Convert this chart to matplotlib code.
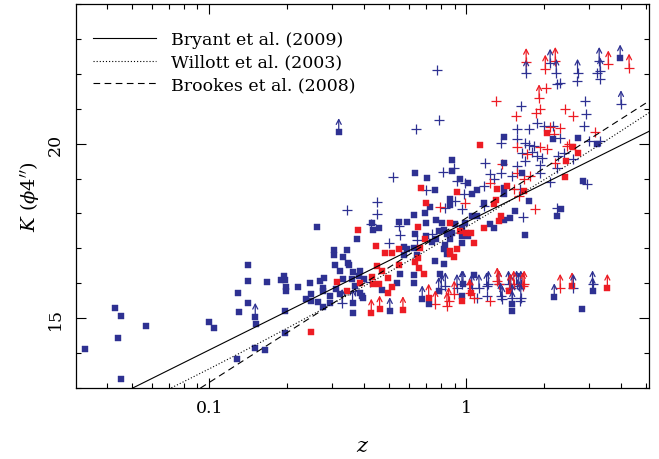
import numpy as np
import matplotlib
matplotlib.use('Agg')
import matplotlib.pyplot as plt
from matplotlib.ticker import FixedLocator, NullFormatter, FixedFormatter

plt.rcParams['font.family'] = ['DejaVu Serif']
plt.rcParams['mathtext.fontset'] = 'dejavuserif'

BLUE = '#2e3192'
RED = '#ed1c24'

# ---------------- data (z, K) ----------------
blue_sq_z = [0.0329, 0.0430, 0.0452, 0.0440, 0.0454, 0.0569, 0.0997, 0.104, 0.129, 0.141, 0.141, 0.141,
             0.131, 0.152, 0.151, 0.128, 0.1655, 0.1675, 0.195, 0.191, 0.197, 0.199, 0.199, 0.198, 0.197,
             0.222, 0.247, 0.249, 0.237, 0.249, 0.264, 0.277, 0.270, 0.279, 0.277, 0.277, 0.294, 0.294, 0.263,
             0.308, 0.322, 0.351, 0.363, 0.385, 0.310, 0.331, 0.324, 0.359, 0.370, 0.385, 0.396, 0.381, 0.399,
             0.470, 0.538, 0.554, 0.624, 0.628, 0.758, 0.817, 0.361, 0.393, 0.348, 0.792, 0.714, 0.962, 1.07,
             1.51, 2.82, 1.70,
             0.632, 0.705, 0.753, 0.720, 0.691, 0.628, 0.760, 0.699, 0.430, 0.432, 0.456, 0.546, 0.586, 0.634,
             0.697, 0.376, 0.760, 0.305, 0.343, 0.305, 0.331, 0.571, 0.588, 0.624, 0.738, 0.574, 0.643,
             0.882, 0.882, 1.40, 1.40, 2.17, 0.942, 1.02, 0.866, 0.866, 1.05, 1.10, 1.40, 1.40, 1.65, 1.75,
             2.25, 1.17, 1.10, 1.05, 0.99, 0.96, 0.906, 1.40, 1.48, 1.24, 1.28, 1.55, 0.805, 0.817, 0.841,
             0.877, 0.866, 1.02, 0.829, 0.962, 0.817, 0.841, 0.781, 0.962,
             2.72, 3.24, 2.84, 2.34]
blue_sq_K = [14.11, 15.28, 15.05, 14.44, 13.27, 14.77, 14.89, 14.72, 15.73, 16.52, 16.06, 15.44,
             15.17, 14.82, 14.16, 13.82, 14.10, 16.03, 16.21, 16.10, 16.09, 15.88, 15.79, 15.21, 14.57,
             15.89, 16.00, 15.70, 15.54, 15.49, 15.47, 15.33, 16.07, 16.16, 15.87, 15.78, 15.65, 15.44, 17.62,
             16.53, 16.34, 16.51, 16.32, 16.35, 15.85, 16.11, 15.68, 16.11, 15.92, 15.73, 15.59, 16.21, 16.11,
             15.81, 16.00, 16.26, 16.00, 16.23, 16.64, 16.54, 15.16, 15.63, 16.59, 16.26, 15.40, 15.63, 16.23,
             15.20, 15.25, 17.37,
             19.17, 19.01, 18.67, 18.18, 18.02, 17.95, 17.80, 17.72, 17.74, 17.54, 17.58, 17.75, 17.75, 17.40,
             17.35, 17.28, 17.26, 16.95, 16.94, 16.82, 16.76, 17.05, 16.97, 17.02, 17.17, 16.80, 16.80,
             19.53, 19.21, 19.46, 20.19, 20.14, 19.00, 18.86, 18.42, 18.23, 18.55, 18.67, 18.74, 18.55, 19.17, 18.36,
             17.93, 18.31, 17.93, 17.93, 17.74, 17.59, 17.69, 17.81, 17.88, 17.71, 17.59, 18.07, 17.74, 17.54, 17.40,
             17.45, 17.26, 17.35, 17.11, 17.16, 16.97, 16.83, 17.50, 17.35,
             20.17, 19.98, 18.93, 18.12]

red_sq_z = [0.249, 0.667, 0.695, 0.379, 0.649, 0.447, 0.481, 0.515, 0.546, 0.663, 0.693, 0.313, 0.343,
            0.385, 0.430, 0.450, 0.470, 0.495, 0.434, 0.456, 0.495, 0.514, 0.546, 0.634, 0.653, 0.687, 0.647,
            0.866, 0.962, 1.47, 2.07, 1.13, 2.60, 2.72, 2.45, 2.43, 0.920, 1.32, 1.30, 1.44, 1.68, 1.28, 1.34,
            1.36, 1.17, 0.866, 0.948, 1.00, 1.04, 1.07, 0.866, 0.920, 0.893]
red_sq_K = [14.60, 18.74, 18.29, 17.54, 17.62, 17.07, 16.86, 16.86, 16.97, 17.02, 17.26, 16.03, 15.78,
            16.00, 16.19, 16.49, 16.35, 16.16, 15.97, 15.97, 15.73, 15.90, 16.51, 16.61, 16.45, 16.28, 16.73,
            16.83, 15.49, 15.78, 20.30, 19.95, 19.89, 19.74, 19.50, 19.05, 18.61, 18.69, 18.40, 18.79, 18.64, 18.26, 17.78,
            17.93, 17.59, 17.74, 17.50, 17.45, 17.45, 17.16, 16.92, 16.99, 16.76]

blue_pl_z = [0.519, 0.695, 0.451, 0.345, 0.448, 0.427, 0.546, 0.554, 0.735, 0.643, 0.502, 0.639, 0.769,
             0.783, 0.811, 0.898, 2.25, 1.64, 1.88, 1.58, 1.75, 2.00, 2.17, 1.37, 1.57, 1.70, 1.75, 1.83, 1.65,
             1.80, 1.88, 1.97, 1.70, 1.94, 1.57, 1.18, 2.28, 2.25, 2.69, 3.32, 3.22, 2.32, 2.90, 2.93, 2.86, 2.99,
             3.32, 2.61, 2.32, 2.39, 2.96, 0.920, 0.99, 0.98, 1.17, 1.24, 1.28, 1.36, 1.51, 1.94, 1.62, 1.66,
             2.25, 1.17, 0.962, 0.906, 0.829, 2.12, 0.424, 0.370, 1.62, 1.10, 1.20]
blue_pl_K = [19.05, 18.67, 18.34, 18.09, 17.99, 17.71, 17.64, 17.38, 17.40, 17.23, 17.14, 20.41, 22.11,
             20.68, 19.18, 19.31, 21.70, 21.08, 20.60, 20.43, 20.41, 20.50, 20.52, 20.03, 20.12, 20.03, 19.95, 19.93, 19.74,
             19.76, 19.64, 19.60, 19.50, 19.38, 19.36, 19.46, 19.64, 19.31, 21.79, 21.84, 22.03, 21.75, 21.22, 20.84, 20.50, 20.07,
             20.07, 19.55, 20.17, 19.74, 18.83, 18.93, 18.88, 18.55, 18.79, 19.12, 18.98, 19.17, 19.07, 19.17, 18.69, 17.90,
             18.17, 18.21, 18.12, 18.36, 18.17, 18.90, 16.03, 15.78, 15.49, 15.59, 15.63]

red_pl_z = [1.30, 2.04, 1.86, 1.94, 1.56, 2.19, 1.57, 1.94, 2.06, 1.73, 1.38, 2.22, 2.43, 2.60, 3.17, 2.47,
            1.24, 1.57, 1.67, 1.77, 1.53, 1.60, 1.85, 0.99, 0.792, 2.12, 2.32, 2.52, 1.07, 1.24]
red_pl_K = [21.22, 21.58, 20.89, 20.98, 20.79, 20.27, 19.89, 19.89, 19.84, 19.69, 19.41, 19.44, 20.98, 20.79, 20.32, 19.93,
            18.88, 19.17, 18.98, 19.07, 18.69, 18.50, 18.14, 18.31, 18.19, 20.49, 20.46, 19.98, 15.59, 15.49]

# lower limits (drawn with an upward arrow)
blue_sq_lim_z = [0.151, 0.319, 0.361, 0.504, 0.674, 0.781, 0.971, 1.51, 2.20, 3.10, 3.97]
blue_sq_lim_K = [15.04, 20.33, 15.44, 15.20, 15.54, 15.78, 15.97, 15.40, 15.60, 15.78, 22.44]

red_sq_lim_z = [0.427, 0.460, 0.567, 0.714, 1.04, 2.58, 3.54]
red_sq_lim_K = [15.16, 15.25, 15.23, 15.59, 15.73, 15.92, 15.87]

blue_pl_lim_z = [0.329, 0.80, 0.829, 0.920, 0.962, 1.05, 1.12, 1.22, 1.36, 1.49, 1.60, 1.20, 1.34, 1.38, 1.46,
                 1.57, 1.63, 1.51, 1.63, 2.61, 3.10, 1.71, 2.12, 2.24, 2.71, 3.29, 3.32, 4.00]
blue_pl_lim_K = [15.44, 15.85, 15.92, 15.87, 15.97, 15.87, 15.87, 15.97, 15.63, 15.87, 15.92, 15.92, 15.97, 15.54, 15.97,
                 15.97, 15.97, 15.59, 15.59, 15.87, 15.97, 22.01, 22.32, 22.03, 22.03, 22.37, 22.07, 21.13]

red_pl_lim_z = [0.758, 0.841, 0.898, 0.854, 1.03, 1.34, 1.32, 1.48, 1.53, 1.66, 1.68, 2.32,
                1.71, 2.22, 2.03, 1.92, 3.57, 4.30]
red_pl_lim_K = [15.40, 15.35, 15.68, 15.49, 15.73, 15.97, 16.06, 15.87, 15.97, 15.92, 15.97, 15.87,
                22.34, 22.37, 22.15, 21.30, 22.27, 22.18]

# K-z relations: K = c0 + c1*log z + c2*(log z)^2
relations = ['Bryant et al. (2009)', 'Willott et al. (2003)', 'Brookes et al. (2008)']
rel_coeffs = [[17.75, 3.66, 0.0], [17.61, 4.38, 0.32], [17.87, 4.71, 0.0]]

# ---------------- figure ----------------
fig = plt.figure(figsize=(6.59, 4.60), dpi=100)
ax = fig.add_axes([0.1153, 0.1543, 0.8695, 0.8348])
ax.set_xscale('log')
ax.set_xlim(0.0303, 5.14)
ax.set_ylim(13, 24)

arrow_len = 0.40
def limits(zs, Ks, color):
    for z, k in zip(zs, Ks):
        ax.annotate('', xy=(z, k + arrow_len), xytext=(z, k), xycoords='data', textcoords='data',
                    arrowprops=dict(arrowstyle='->,head_length=0.35,head_width=0.18', color=color,
                                    lw=0.9, shrinkA=0, shrinkB=0), zorder=2)

sq_kw = dict(ls='none', marker='s', ms=4.0, mew=0.3, zorder=2)
pl_kw = dict(ls='none', marker='+', ms=7.5, mew=0.9, zorder=2)

ax.plot(blue_pl_z, blue_pl_K, color=BLUE, **pl_kw)
ax.plot(red_pl_z, red_pl_K, color=RED, **pl_kw)
ax.plot(blue_pl_lim_z, blue_pl_lim_K, color=BLUE, **pl_kw)
ax.plot(red_pl_lim_z, red_pl_lim_K, color=RED, **pl_kw)
ax.plot(blue_sq_z, blue_sq_K, color=BLUE, mec=BLUE, **sq_kw)
ax.plot(red_sq_z, red_sq_K, color=RED, mec=RED, **sq_kw)
ax.plot(blue_sq_lim_z, blue_sq_lim_K, color=BLUE, mec=BLUE, **sq_kw)
ax.plot(red_sq_lim_z, red_sq_lim_K, color=RED, mec=RED, **sq_kw)
limits(blue_sq_lim_z, blue_sq_lim_K, BLUE)
limits(red_sq_lim_z, red_sq_lim_K, RED)
limits(blue_pl_lim_z, blue_pl_lim_K, BLUE)
limits(red_pl_lim_z, red_pl_lim_K, RED)

zz = np.logspace(np.log10(0.0303), np.log10(5.14), 300)
lz = np.log10(zz)
styles = [dict(ls='-'), dict(dashes=(1.0, 1.8)), dict(dashes=(6, 4))]
for name, c, st in zip(relations, rel_coeffs, styles):
    ax.plot(zz, c[0] + c[1] * lz + c[2] * lz ** 2, color='black', lw=0.8, label=name, zorder=3, **st)

leg = ax.legend(loc='upper left', bbox_to_anchor=(0.0, 0.975), frameon=False, fontsize=12.5,
                handlelength=3.6, handletextpad=0.9, labelspacing=0.33, borderaxespad=0.6)

# ticks
ax.xaxis.set_major_locator(FixedLocator([0.1, 1]))
ax.xaxis.set_major_formatter(FixedFormatter(['0.1', '1']))
minor_x = [m * 10.0 ** e for e in (-2, -1, 0) for m in range(2, 10)]
ax.xaxis.set_minor_locator(FixedLocator(minor_x))
ax.xaxis.set_minor_formatter(NullFormatter())
ax.yaxis.set_major_locator(FixedLocator([15, 20]))
ax.yaxis.set_minor_locator(FixedLocator(list(range(13, 25))))
ax.tick_params(which='both', direction='in', top=True, right=True, width=0.8)
ax.tick_params(which='major', length=7)
ax.tick_params(which='minor', length=3.5)
ax.tick_params(axis='x', which='major', labelsize=12.5, pad=8)
ax.tick_params(axis='y', which='major', labelsize=12.5, pad=9, labelrotation=90)
for lab in ax.get_yticklabels():
    lab.set_verticalalignment('center')
for sp in ax.spines.values():
    sp.set_linewidth(0.9)

ax.set_xlabel(r'$z$', fontsize=15, labelpad=14)
ax.set_ylabel(r'$K\ (\phi 4^{\prime\prime})$', fontsize=14, labelpad=4)

fig.savefig('out.png', dpi=100)
